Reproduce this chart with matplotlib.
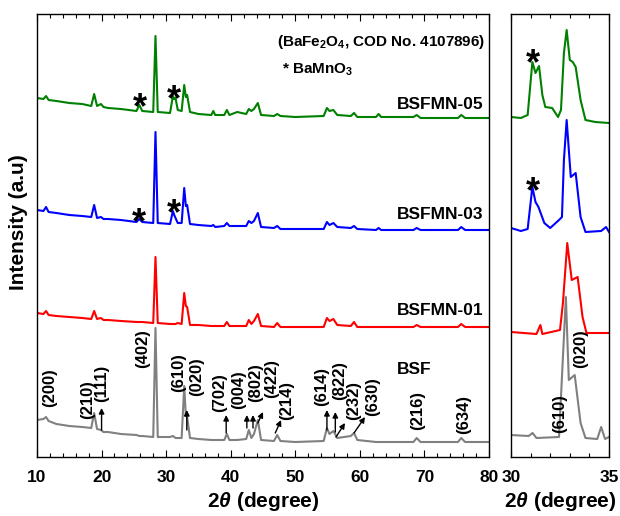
import matplotlib
matplotlib.use('Agg')
import matplotlib.pyplot as plt
from matplotlib.ticker import MultipleLocator

plt.rcParams['font.family'] = ['Liberation Sans', 'DejaVu Sans']
plt.rcParams['font.weight'] = 'bold'
plt.rcParams['axes.labelweight'] = 'bold'
plt.rcParams['mathtext.fontset'] = 'custom'
plt.rcParams['mathtext.rm'] = 'Liberation Sans:bold'
plt.rcParams['mathtext.it'] = 'Liberation Sans:italic:bold'
plt.rcParams['mathtext.bf'] = 'Liberation Sans:bold'

# Diffractogrammes empilés (intensité décalée, u.a.)
two_theta = [10.0, 11.0, 11.4, 11.8, 13.0, 15.0, 17.0, 18.4, 18.85, 19.3,
             19.9, 20.3, 21.0, 23.0, 25.4, 25.85, 26.3, 28.0, 28.35, 28.7,
             30.6, 31.05, 31.25, 31.45, 31.8, 32.4, 32.8, 33.05, 33.25, 33.7,
             35.0, 37.0, 37.3, 37.6, 39.0, 39.4, 39.8, 41.0, 42.4, 42.8,
             43.2, 43.6, 44.2, 44.7, 46.7, 47.2, 47.7, 50.0, 54.4, 54.9,
             55.3, 55.9, 56.5, 58.6, 59.1, 59.6, 62.5, 62.9, 63.3, 68.3,
             68.8, 69.4, 75.2, 75.7, 76.3, 80.0]

bsfmn05 = [359, 358, 361, 357, 356, 354, 353, 351, 363, 351,
           353, 350, 349, 348, 346, 352, 346, 345, 421, 345,
           344, 361, 358, 359, 347, 346, 372, 360, 362, 345,
           343, 342, 346, 342, 342, 347, 342, 345, 343, 348,
           346, 348, 354, 342, 341, 343, 341, 340, 341, 349,
           346, 347, 342, 341, 344, 340, 340, 343, 340, 340,
           342, 339, 339, 342, 339, 339]

bsfmn03 = [247, 246, 250, 245, 244, 242, 241, 240, 252, 239,
           240, 238, 238, 237, 235, 238, 235, 234, 325, 234,
           233, 246, 242, 239, 234, 234, 269, 251, 252, 233,
           232, 231, 232, 230, 231, 234, 231, 231, 231, 236,
           234, 236, 244, 230, 229, 231, 228, 228, 228, 235,
           232, 234, 230, 229, 231, 228, 227, 229, 227, 227,
           229, 227, 227, 230, 227, 227]

bsfmn01 = [144, 143, 146, 142, 141, 140, 139, 138, 146, 138,
           139, 137, 137, 136, 135, 135, 135, 134, 200, 134,
           133, 133, 133, 133, 134, 133, 164, 151, 150, 132,
           132, 131, 131, 131, 131, 135, 131, 131, 131, 137,
           133, 136, 143, 131, 130, 134, 130, 130, 130, 139,
           136, 138, 132, 131, 135, 130, 130, 130, 130, 130,
           132, 130, 130, 133, 130, 130]

bsf = [37, 38, 40, 36, 33, 31, 30, 29, 44, 28,
       27, 25, 25, 23, 22, 21, 21, 20, 129, 20,
       20, 21, 20, 19, 19, 19, 71, 41, 40, 19,
       18, 17, 17, 17, 17, 23, 17, 17, 18, 27,
       19, 23, 37, 17, 16, 22, 16, 15, 16, 29,
       23, 26, 19, 21, 24, 17, 15, 15, 15, 15,
       19, 15, 15, 19, 15, 15]

# Agrandissement 30-35 degrés
zoom_tt_05 = [30.0, 30.5, 30.85, 31.09, 31.25, 31.43, 31.6, 31.75, 32.1, 32.4,
              32.55, 32.7, 32.84, 33.0, 33.15, 33.3, 33.55, 33.8, 34.3, 35.0]
zoom_05 = [340, 339, 342, 395, 384, 391, 362, 350, 349, 340,
           347, 404, 427, 397, 395, 390, 357, 337, 335, 334]
zoom_tt_03 = [30.0, 30.5, 30.85, 31.09, 31.25, 31.4, 31.7, 32.0, 32.45, 32.6,
              32.7, 32.84, 33.05, 33.3, 33.55, 33.8, 34.6, 34.85, 35.0]
zoom_03 = [229, 226, 228, 270, 255, 250, 234, 229, 237, 240,
           297, 337, 280, 284, 240, 225, 226, 230, 225]
zoom_tt_01 = [30.0, 31.3, 31.5, 31.6, 32.5, 32.65, 32.87, 33.1, 33.4, 33.65, 33.85, 35.0]
zoom_01 = [125, 123, 132, 123, 127, 154, 214, 177, 180, 140, 124, 124]
zoom_tt_bsf = [30.0, 30.9, 31.1, 31.3, 32.45, 32.6, 32.8, 32.95, 33.25, 33.55,
               33.8, 34.4, 34.6, 34.8, 35.0]
zoom_bsf = [22, 21, 24, 19, 20, 80, 160, 77, 82, 34, 19, 18, 30, 18, 20]

# Indexation BaFe2O4 : (hkl, position du texte)
hkl_labels = ['(200)', '(210)', '(111)', '(402)', '(610)', '(020)', '(702)', '(004)', '(802)',
              '(422)', '(214)', '(614)', '(822)', '(232)', '(630)', '(216)', '(634)']
hkl_x = [12.0, 17.9, 20.0, 26.3, 31.9, 34.7, 38.3, 41.2, 43.8,
         46.4, 48.7, 54.1, 56.8, 59.0, 62.0, 69.0, 76.0]
hkl_y = [69, 57, 74, 108, 84, 80, 64, 67, 74,
         79, 57, 70, 77, 57, 60, 47, 42]

# flèches (départ -> pointe)
arrows = [((20.0, 27), (20.0, 49)), ((33.2, 27), (33.2, 47)), ((39.3, 24), (39.3, 42)),
          ((42.5, 29), (42.5, 42)), ((43.45, 29), (43.45, 42)), ((44.2, 34), (45.0, 45)),
          ((46.9, 24), (47.8, 37)), ((54.9, 27), (54.9, 47)), ((56.2, 25), (56.2, 45)),
          ((56.3, 20), (57.7, 34)), ((59.1, 24), (60.8, 40))]

lw = 1.5
fig = plt.figure(figsize=(6.2, 5.16), dpi=100)
ax = fig.add_axes([37 / 620, 59 / 516, 452 / 620, 443 / 516])
ax2 = fig.add_axes([511 / 620, 59 / 516, 98 / 620, 443 / 516])

ax.plot(two_theta, bsf, color='gray', lw=lw)
ax.plot(two_theta, bsfmn01, color='red', lw=lw)
ax.plot(two_theta, bsfmn03, color='blue', lw=lw)
ax.plot(two_theta, bsfmn05, color='green', lw=lw)

ax2.plot(zoom_tt_bsf, zoom_bsf, color='gray', lw=lw)
ax2.plot(zoom_tt_01, zoom_01, color='red', lw=lw)
ax2.plot(zoom_tt_03, zoom_03, color='blue', lw=lw)
ax2.plot(zoom_tt_05, zoom_05, color='green', lw=lw)


def etoile(a, x, y, size=26):
    # centre visuel de l'astérisque sur (x, y)
    a.annotate('*', (x, y), xytext=(0, -0.6 * size), textcoords='offset points',
               ha='center', va='baseline', fontsize=size, fontweight='bold')


for x, y in [(25.95, 360), (31.2, 368), (25.8, 245), (31.15, 254)]:
    etoile(ax, x, y)
for x, y in [(31.12, 404), (31.12, 276)]:
    etoile(ax2, x, y)

for lab, x, y in zip(hkl_labels, hkl_x, hkl_y):
    ax.text(x, y, lab, rotation=90, ha='center', va='center', fontsize=12)
for (x0, y0), (x1, y1) in arrows:
    ax.annotate('', xy=(x1, y1), xytext=(x0, y0),
                arrowprops=dict(arrowstyle='-|>', color='black', lw=1.0,
                                mutation_scale=8, shrinkA=0, shrinkB=0))

ax2.text(32.5, 43, '(610)', rotation=90, ha='center', va='center', fontsize=12)
ax2.text(33.55, 108, '(020)', rotation=90, ha='center', va='center', fontsize=12)

# noms des échantillons
ax.text(65.75, 348, 'BSFMN-05', fontsize=12.5, va='baseline')
ax.text(65.75, 238, 'BSFMN-03', fontsize=12.5, va='baseline')
ax.text(65.75, 142, 'BSFMN-01', fontsize=12.5, va='baseline')
ax.text(65.75, 83, 'BSF', fontsize=12.5, va='baseline')

ax.text(47.2, 411, r'(BaFe$_{\mathrm{2}}$O$_{\mathrm{4}}$, COD No. 4107896)', fontsize=11, va='baseline')
ax.text(47.9, 383, r'* BaMnO$_{\mathrm{3}}$', fontsize=11, va='baseline')

ax.set_xlim(10, 80)
ax.set_ylim(0, 443)
ax.xaxis.set_major_locator(MultipleLocator(10))
ax.xaxis.set_minor_locator(MultipleLocator(2))
ax2.set_xlim(30, 35)
ax2.set_ylim(0, 443)
ax2.set_xticks([30, 35])
ax2.xaxis.set_minor_locator(MultipleLocator(1))

for a in (ax, ax2):
    a.set_yticks([])
    a.tick_params(axis='x', which='both', direction='in', top=True, labelsize=12.5, pad=9)
    a.tick_params(axis='x', which='major', length=5, width=0.8)
    a.tick_params(axis='x', which='minor', length=3, width=0.8)
    for t in a.get_xticklabels():
        t.set_fontweight('bold')
    for s in a.spines.values():
        s.set_linewidth(1.0)
    a.set_xlabel(r'2$\mathit{\theta}$ (degree)', fontsize=15, labelpad=4, fontweight='bold')

ax.set_ylabel('Intensity (a.u)', fontsize=15, fontweight='bold')
ax.yaxis.set_label_coords(-0.02, 0.53)

plt.savefig('out.png', dpi=100)
